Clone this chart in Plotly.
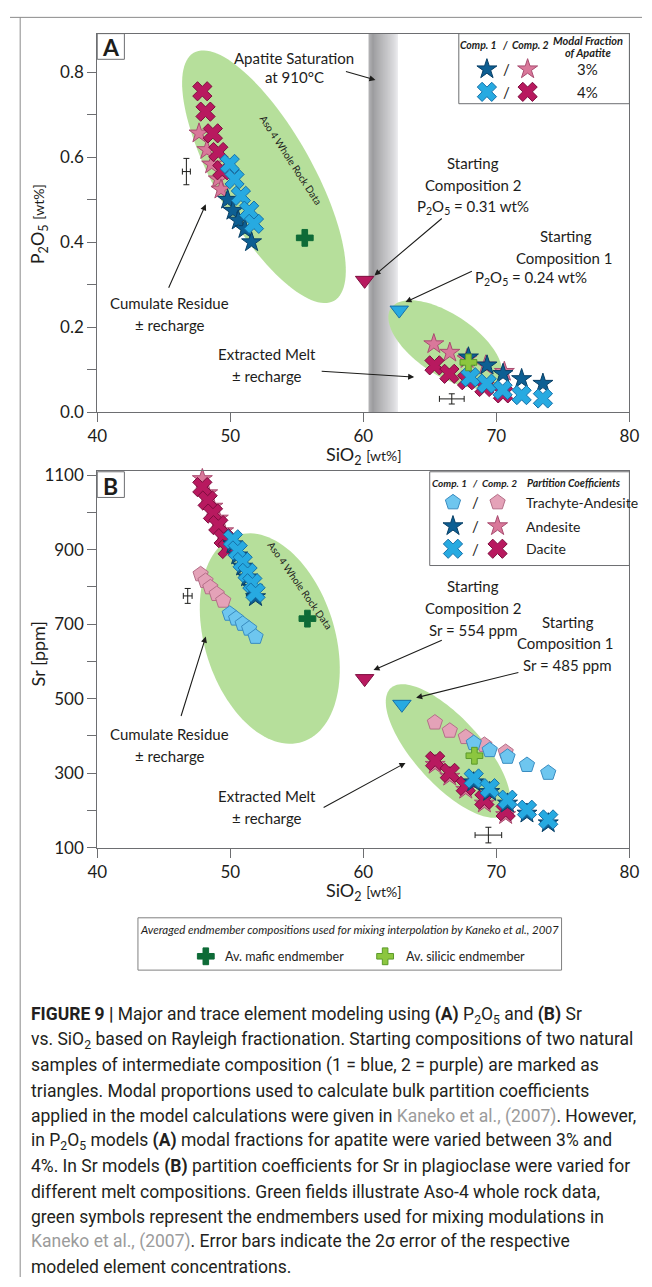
import numpy as np
import plotly.graph_objects as go

W, H = 652, 1287

# ------------------------------------------------------------------ data
# Panel A : P2O5 [wt%] vs SiO2 [wt%]  (first 5 = cumulate residue, last 5 = extracted melt)
a_c1_ap3_x = [49.8, 50.2, 50.6, 51.1, 51.6, 67.9, 69.3, 70.5, 71.9, 73.5]
a_c1_ap3_y = [0.50, 0.474, 0.451, 0.431, 0.40, 0.129, 0.11, 0.09, 0.078, 0.067]
a_c1_ap4_x = [49.96, 50.32, 50.8, 51.42, 51.78, 68.05, 69.27, 70.47, 71.9, 73.5]
a_c1_ap4_y = [0.584, 0.548, 0.509, 0.474, 0.443, 0.082, 0.067, 0.052, 0.04, 0.032]
a_c2_ap3_x = [47.65, 48.24, 48.6, 49.1, 49.3, 65.3, 66.5, 67.8, 69.2, 70.6]
a_c2_ap3_y = [0.656, 0.617, 0.583, 0.548, 0.524, 0.16, 0.14, 0.125, 0.11, 0.095]
a_c2_ap4_x = [47.9, 48.14, 48.69, 49.1, 49.4, 65.35, 66.47, 67.8, 69.1, 70.5]
a_c2_ap4_y = [0.755, 0.707, 0.656, 0.612, 0.569, 0.11, 0.09, 0.075, 0.059, 0.044]
a_start_x = [62.7, 60.1]          # composition 1, composition 2
a_start_y = [0.24, 0.31]
a_endm_x = [55.6, 67.9]           # mafic, silicic endmember
a_endm_y = [0.41, 0.117]
a_err_x = [46.7, 66.65]
a_err_y = [0.566, 0.031]
a_err_dx = [0.3, 0.93]
a_err_dy = [0.031, 0.012]
apatite_sat_sio2 = [60.4, 62.6]

# Panel B : Sr [ppm] vs SiO2 [wt%]  (residue branch first, then extracted melt)
b_c1_and_x = [50.2, 50.56, 50.93, 51.3, 51.66, 51.9, 68.3, 69.5, 70.84, 72.3, 73.9]
b_c1_and_y = [915, 885, 855, 826, 798, 773, 276, 250, 219, 192, 166]
b_c1_dac_x = [50.2, 50.56, 50.93, 51.3, 51.66, 51.9, 68.3, 69.5, 70.84, 72.3, 73.9]
b_c1_dac_y = [928, 898, 867, 838, 810, 785, 286, 260, 229, 202, 176]
b_c2_and_x = [47.9, 48.3, 48.7, 49.1, 49.5, 49.8, 65.4, 66.5, 67.7, 69.1, 70.7]
b_c2_and_y = [1090, 1052, 1016, 984, 950, 918, 323, 291, 256, 219, 188]
b_c2_dac_x = [47.9, 48.3, 48.7, 49.1, 49.5, 49.8, 65.4, 66.5, 67.7, 69.1, 70.7]
b_c2_dac_y = [1068, 1032, 997, 966, 931, 902, 333, 301, 266, 229, 198]
b_c1_tra_x = [49.96, 50.44, 50.93, 51.42, 51.9, 68.3, 69.5, 70.84, 72.3, 73.9]
b_c1_tra_y = [728, 715, 701, 688, 666, 381, 362, 344, 322, 301]
b_c2_tra_x = [47.77, 48.14, 48.5, 48.98, 49.47, 65.38, 66.5, 67.7, 69.1, 70.7]
b_c2_tra_y = [834, 816, 799, 781, 763, 436, 414, 397, 376, 357]
b_start_x = [62.9, 60.1]
b_start_y = [485, 554]
b_endm_x = [55.8, 68.35]
b_endm_y = [715, 347]
b_err_x = [46.8, 69.4]
b_err_y = [776, 134]
b_err_dx = [0.33, 1.0]
b_err_dy = [20, 21]

x_ticks = [40, 50, 60, 70, 80]
a_ticks = [0.0, 0.2, 0.4, 0.6, 0.8]
a_minor = [0.1, 0.3, 0.5, 0.7]
b_ticks = [100, 300, 500, 700, 900, 1100]
b_minor = [200, 400, 600, 800, 1000]

# ------------------------------------------------------------------ style / geometry
FONT = "Lato"
INK = "#1d1d1b"
AXC = "#6d6e71"
C_DARKBLUE, L_DARKBLUE = "#0d5f93", "#083f66"
C_LBLUE, L_LBLUE = "#27aae1", "#1670a8"
C_PINK, L_PINK = "#d9789a", "#a94c70"
C_MAG, L_MAG = "#b8195f", "#7d0d3e"
C_PBLUE, L_PBLUE = "#6ec6ef", "#3a8cc0"
C_PPINK, L_PPINK = "#e4a2b8", "#b46f88"
C_DGREEN, C_LGREEN, L_LGREEN = "#0e6b37", "#8cc63f", "#5b9a2a"
C_FIELD = "#b6df9b"

XPX = (90, 639)
XR = (40, 80)
A_YPX = (410.5, 27)
A_YR = (0, 0.8906)
B_YPX = (852, 470.7)
B_YR = (100, 1110)


def px_to_x(px):
    return XR[0] + (np.asarray(px) - XPX[0]) / (XPX[1] - XPX[0]) * (XR[1] - XR[0])


def py_to_a(py):
    return A_YR[0] + (A_YPX[0] - np.asarray(py)) / (A_YPX[0] - A_YPX[1]) * (A_YR[1] - A_YR[0])


def py_to_b(py):
    return B_YR[0] + (B_YPX[0] - np.asarray(py)) / (B_YPX[0] - B_YPX[1]) * (B_YR[1] - B_YR[0])


def ellipse_path(cx, cy, a, b, th_deg, fy, n=120):
    t = np.linspace(0, 2 * np.pi, n, endpoint=False)
    th = np.radians(th_deg)
    px = cx + a * np.cos(t) * np.cos(th) - b * np.sin(t) * np.sin(th)
    py = cy + a * np.cos(t) * np.sin(th) + b * np.sin(t) * np.cos(th)
    xs, ys = px_to_x(px), fy(py)
    return "M " + " L ".join(f"{x:.4f},{y:.5f}" for x, y in zip(xs, ys)) + " Z"


fig = go.Figure()


def pts(xs, ys, symbol, size, color, lcolor, xa="x", ya="y", lw=1):
    fig.add_trace(go.Scatter(
        x=xs, y=ys, mode="markers", xaxis=xa, yaxis=ya, cliponaxis=False,
        marker=dict(symbol=symbol, size=size, color=color, line=dict(color=lcolor, width=lw)),
        showlegend=False, hoverinfo="skip"))


def errs(xs, ys, dx, dy, xa="x", ya="y"):
    fig.add_trace(go.Scatter(
        x=xs, y=ys, mode="markers", xaxis=xa, yaxis=ya,
        marker=dict(size=1, color="rgba(0,0,0,0)"),
        error_x=dict(type="data", array=dx, color=INK, thickness=1, width=3),
        error_y=dict(type="data", array=dy, color=INK, thickness=1, width=3),
        showlegend=False, hoverinfo="skip"))


STAR, XS, PENT, TRI, CROSS = 15, 17, 16, 16, 14

# Panel A
pts(a_c2_ap3_x, a_c2_ap3_y, "star", STAR, C_PINK, L_PINK)
pts(a_c2_ap4_x, a_c2_ap4_y, "x", XS, C_MAG, L_MAG)
pts(a_c1_ap3_x, a_c1_ap3_y, "star", STAR, C_DARKBLUE, L_DARKBLUE)
pts(a_c1_ap4_x, a_c1_ap4_y, "x", XS, C_LBLUE, L_LBLUE)
pts(a_endm_x, a_endm_y, "cross", CROSS, [C_DGREEN, C_LGREEN], [C_DGREEN, L_LGREEN])
pts(a_start_x, a_start_y, "triangle-down", TRI, [C_LBLUE, C_MAG], [L_LBLUE, L_MAG])
errs(a_err_x, a_err_y, a_err_dx, a_err_dy)

# Panel B
pts(b_c2_tra_x, b_c2_tra_y, "pentagon", PENT, C_PPINK, L_PPINK, "x2", "y2")
pts(b_c1_tra_x, b_c1_tra_y, "pentagon", PENT, C_PBLUE, L_PBLUE, "x2", "y2")
pts(b_c2_and_x, b_c2_and_y, "star", STAR, C_PINK, L_PINK, "x2", "y2")
pts(b_c2_dac_x, b_c2_dac_y, "x", XS, C_MAG, L_MAG, "x2", "y2")
pts(b_c1_and_x, b_c1_and_y, "star", STAR, C_DARKBLUE, L_DARKBLUE, "x2", "y2")
pts(b_c1_dac_x, b_c1_dac_y, "x", XS, C_LBLUE, L_LBLUE, "x2", "y2")
pts(b_endm_x, b_endm_y, "cross", CROSS, [C_DGREEN, C_LGREEN], [C_DGREEN, L_LGREEN], "x2", "y2")
pts(b_start_x, b_start_y, "triangle-down", TRI, [C_LBLUE, C_MAG], [L_LBLUE, L_MAG], "x2", "y2")
errs(b_err_x, b_err_y, b_err_dx, b_err_dy, "x2", "y2")


# legend swatches on a pixel-space overlay (x3/y3)
def sw(x, y, symbol, size, color, lcolor):
    pts([x], [y], symbol, size, color, lcolor, "x3", "y3")


sw(492, 63, "star", STAR, C_DARKBLUE, L_DARKBLUE)
sw(534, 63, "star", STAR, C_PINK, L_PINK)
sw(492, 86, "x", XS, C_LBLUE, L_LBLUE)
sw(534, 86, "x", XS, C_MAG, L_MAG)
sw(457, 502, "pentagon", PENT, C_PBLUE, L_PBLUE)
sw(503, 502, "pentagon", PENT, C_PPINK, L_PPINK)
sw(457, 526, "star", STAR, C_DARKBLUE, L_DARKBLUE)
sw(503, 526, "star", STAR, C_PINK, L_PINK)
sw(457, 549, "x", XS, C_LBLUE, L_LBLUE)
sw(503, 549, "x", XS, C_MAG, L_MAG)
sw(202, 962, "cross", CROSS, C_DGREEN, C_DGREEN)
sw(387, 962, "cross", CROSS, C_LGREEN, L_LGREEN)

# ------------------------------------------------------------------ shapes
shapes = []
shapes.append(dict(type="path", xref="x", yref="y", layer="below", line=dict(width=0),
                   fillcolor=C_FIELD, path=ellipse_path(262, 172, 145, 50, 60, py_to_a)))
shapes.append(dict(type="path", xref="x", yref="y", layer="below", line=dict(width=0),
                   fillcolor=C_FIELD, path=ellipse_path(449, 342, 67, 31, 33, py_to_a)))
shapes.append(dict(type="path", xref="x2", yref="y2", layer="below", line=dict(width=0),
                   fillcolor=C_FIELD, path=ellipse_path(268, 640, 110, 67, 72, py_to_b)))
shapes.append(dict(type="path", xref="x2", yref="y2", layer="below", line=dict(width=0),
                   fillcolor=C_FIELD, path=ellipse_path(452, 754, 87, 34, 47, py_to_b)))
# apatite saturation band (grey gradient)
n = 30
x0, x1 = apatite_sat_sio2
for i in range(n):
    t = (i + 0.5) / n
    g = 160 - 35 * t / 0.15 if t < 0.15 else 125 + (236 - 125) * (t - 0.15) / 0.85
    g = int(round(g))
    shapes.append(dict(type="rect", xref="x", yref="y domain", layer="below",
                       x0=x0 + (x1 - x0) * i / n, x1=x0 + (x1 - x0) * (i + 1.02) / n, y0=0, y1=1,
                       line=dict(width=0), fillcolor=f"rgb({g},{g},{g+3})"))


def box(x0, y0, x1, y1, color=AXC, width=1):
    shapes.append(dict(type="rect", xref="x3", yref="y3", layer="above",
                       x0=x0, y0=y0, x1=x1, y1=y1, line=dict(color=color, width=width)))


box(90, 27, 118, 53)
box(90, 471, 118, 497)
box(463, 27, 639, 98)
box(433, 471, 639, 566)
box(132, 923, 569, 976, color="#808080")
shapes.append(dict(type="line", xref="x3", yref="y3", x0=0, x1=W, y0=10.5, y1=10.5,
                   line=dict(color="#8a8a8a", width=1), layer="above"))
shapes.append(dict(type="line", xref="x3", yref="y3", x0=10.5, x1=10.5, y0=10.5, y1=H,
                   line=dict(color="#8a8a8a", width=1), layer="above"))

# ------------------------------------------------------------------ annotations
ann = []


def txt(x, y, s, size=15, xanchor="center", color=INK, angle=0, family=FONT):
    ann.append(dict(x=x, y=y, xref="x3", yref="y3", text=s, showarrow=False,
                    xanchor=xanchor, yanchor="middle", textangle=angle,
                    font=dict(family=family, size=size, color=color)))


def arrow(tx, ty, hx, hy):
    ann.append(dict(x=hx, y=hy, xref="x3", yref="y3", ax=tx, ay=ty, axref="x3", ayref="y3",
                    text="", showarrow=True, arrowhead=2, arrowsize=1.1, arrowwidth=1.1,
                    arrowcolor=INK))


txt(104, 41, "<b>A</b>", 23)
txt(104, 485, "<b>B</b>", 23)
txt(365, 454, "SiO<sub>2</sub> <span style='font-size:14px'>[wt%]</span>", 18)
txt(365, 896, "SiO<sub>2</sub> <span style='font-size:14px'>[wt%]</span>", 18)
txt(29, 220, "P<sub>2</sub>O<sub>5</sub> <span style='font-size:14px'>[wt%]</span>", 18, angle=-90)
txt(29, 656, "Sr [ppm]", 18, angle=-90)

# panel A texts
txt(293, 52, "Apatite Saturation", 15)
txt(293, 71, "at 910°C", 15)
arrow(345, 65, 377, 74)
txt(478, 158, "Starting", 15)
txt(478, 180, "Composition 2", 15)
txt(478, 203, "P<sub>2</sub>O<sub>5</sub> = 0.31 wt%", 15)
arrow(447, 213, 376, 272)
txt(574, 232, "Starting", 15)
txt(572, 254, "Composition 1", 15)
txt(537, 275, "P<sub>2</sub>O<sub>5</sub> = 0.24 wt%", 15)
arrow(478, 267, 408, 299)
txt(165, 300, "Cumulate Residue", 15)
txt(165, 322, "± recharge", 15)
arrow(163, 286, 202, 200)
txt(265, 352, "Extracted Melt", 15)
txt(265, 374, "± recharge", 15)
arrow(320, 369, 417, 375)
txt(290, 155, "Aso 4 Whole Rock Data", 10, angle=57)

# panel A legend
txt(483, 38, "<b><i>Comp. 1</i></b>", 10.5)
txt(511, 38, "<b><i>/</i></b>", 10.5)
txt(537, 38, "<b><i>Comp. 2</i></b>", 10.5)
txt(596, 34, "<b><i>Modal Fraction</i></b>", 11)
txt(597, 46, "<b><i>of Apatite</i></b>", 11)
txt(512, 63, "/", 15)
txt(512, 86, "/", 15)
txt(596, 63, "3%", 15)
txt(596, 86, "4%", 15)

# panel B texts
txt(478, 587, "Starting", 15)
txt(478, 609, "Composition 2", 15)
txt(478, 631, "Sr = 554 ppm", 15)
arrow(447, 641, 375, 672)
txt(576, 623, "Starting", 15)
txt(573, 645, "Composition 1", 15)
txt(575, 667, "Sr = 485 ppm", 15)
arrow(526, 674, 419, 700)
txt(165, 737, "Cumulate Residue", 15)
txt(165, 759, "± recharge", 15)
arrow(176, 720, 202, 638)
txt(265, 800, "Extracted Melt", 15)
txt(265, 822, "± recharge", 15)
arrow(322, 812, 408, 766)
txt(299, 586, "Aso 4 Whole Rock Data", 10, angle=55)

# panel B legend
txt(453, 482, "<b><i>Comp. 1</i></b>", 10)
txt(480, 482, "<b><i>/</i></b>", 10)
txt(505, 482, "<b><i>Comp. 2</i></b>", 10)
txt(531, 482, "<b><i>Partition Coefficients</i></b>", 10.5, xanchor="left")
for yy, lab in [(502, "Trachyte-Andesite"), (526, "Andesite"), (549, "Dacite")]:
    txt(480, yy, "/", 15)
    txt(530, yy, lab, 14, xanchor="left")

# bottom legend
txt(350, 935, "<i>Averaged endmember compositions used for mixing interpolation by Kaneko et al., 2007</i>", 11.5)
txt(220, 962, "Av. mafic endmember", 12.5, xanchor="left")
txt(406, 962, "Av. silicic endmember", 12.5, xanchor="left")

# caption
G = "<span style='color:#9b9b9b'>Kaneko et al., (2007)</span>"
cap = [
    "<b>FIGURE 9 |</b> Major and trace element modeling using <b>(A)</b> P<sub>2</sub>O<sub>5</sub> and <b>(B)</b> Sr",
    "vs. SiO<sub>2</sub> based on Rayleigh fractionation. Starting compositions of two natural",
    "samples of intermediate composition (1 = blue, 2 = purple) are marked as",
    "triangles. Modal proportions used to calculate bulk partition coefficients",
    "applied in the model calculations were given in " + G + ". However,",
    "in P<sub>2</sub>O<sub>5</sub> models <b>(A)</b> modal fractions for apatite were varied between 3% and",
    "4%. In Sr models <b>(B)</b> partition coefficients for Sr in plagioclase were varied for",
    "different melt compositions. Green fields illustrate Aso-4 whole rock data,",
    "green symbols represent the endmembers used for mixing modulations in",
    G + ". Error bars indicate the 2σ error of the respective",
    "modeled element concentrations.",
]
for i, line in enumerate(cap):
    txt(20, 1022 + i * 25.5, line, 17.5, xanchor="left", color="#231f20", family="Roboto")


# ------------------------------------------------------------------ axes
def xax(anchor):
    return dict(domain=[XPX[0] / W, XPX[1] / W], range=list(XR), anchor=anchor,
                showline=True, linecolor=AXC, linewidth=1, mirror=True,
                ticks="outside", ticklen=9, tickcolor=AXC, tickvals=x_ticks,
                tickfont=dict(family=FONT, size=17, color=INK),
                showgrid=False, zeroline=False, fixedrange=True)


def yax(anchor, ypx, yr, tv, tt, minor):
    return dict(domain=[1 - ypx[0] / H, 1 - ypx[1] / H], range=list(yr), anchor=anchor,
                showline=True, linecolor=AXC, linewidth=1, mirror=True,
                ticks="outside", ticklen=9, tickcolor=AXC, tickvals=tv, ticktext=tt,
                minor=dict(tickvals=minor, ticks="outside", ticklen=9, tickcolor=AXC),
                tickfont=dict(family=FONT, size=17, color=INK),
                showgrid=False, zeroline=False, fixedrange=True)


fig.update_layout(
    width=W, height=H, margin=dict(l=0, r=0, t=0, b=0),
    paper_bgcolor="white", plot_bgcolor="rgba(0,0,0,0)",
    font=dict(family=FONT, color=INK),
    xaxis=xax("y"),
    yaxis=yax("x", A_YPX, A_YR, a_ticks, [f"{v:.1f}" for v in a_ticks], a_minor),
    xaxis2=xax("y2"),
    yaxis2=yax("x2", B_YPX, B_YR, b_ticks, [str(v) for v in b_ticks], b_minor),
    xaxis3=dict(domain=[0, 1], range=[0, W], anchor="y3", visible=False, fixedrange=True),
    yaxis3=dict(domain=[0, 1], range=[H, 0], anchor="x3", visible=False, fixedrange=True),
    shapes=shapes, annotations=ann, showlegend=False,
)

fig.write_html("out.html", config={"displayModeBar": False},
               post_script="var s=document.createElement('style');s.innerHTML='html,body{margin:0!important;padding:0!important;overflow:hidden!important}';document.head.appendChild(s);")
